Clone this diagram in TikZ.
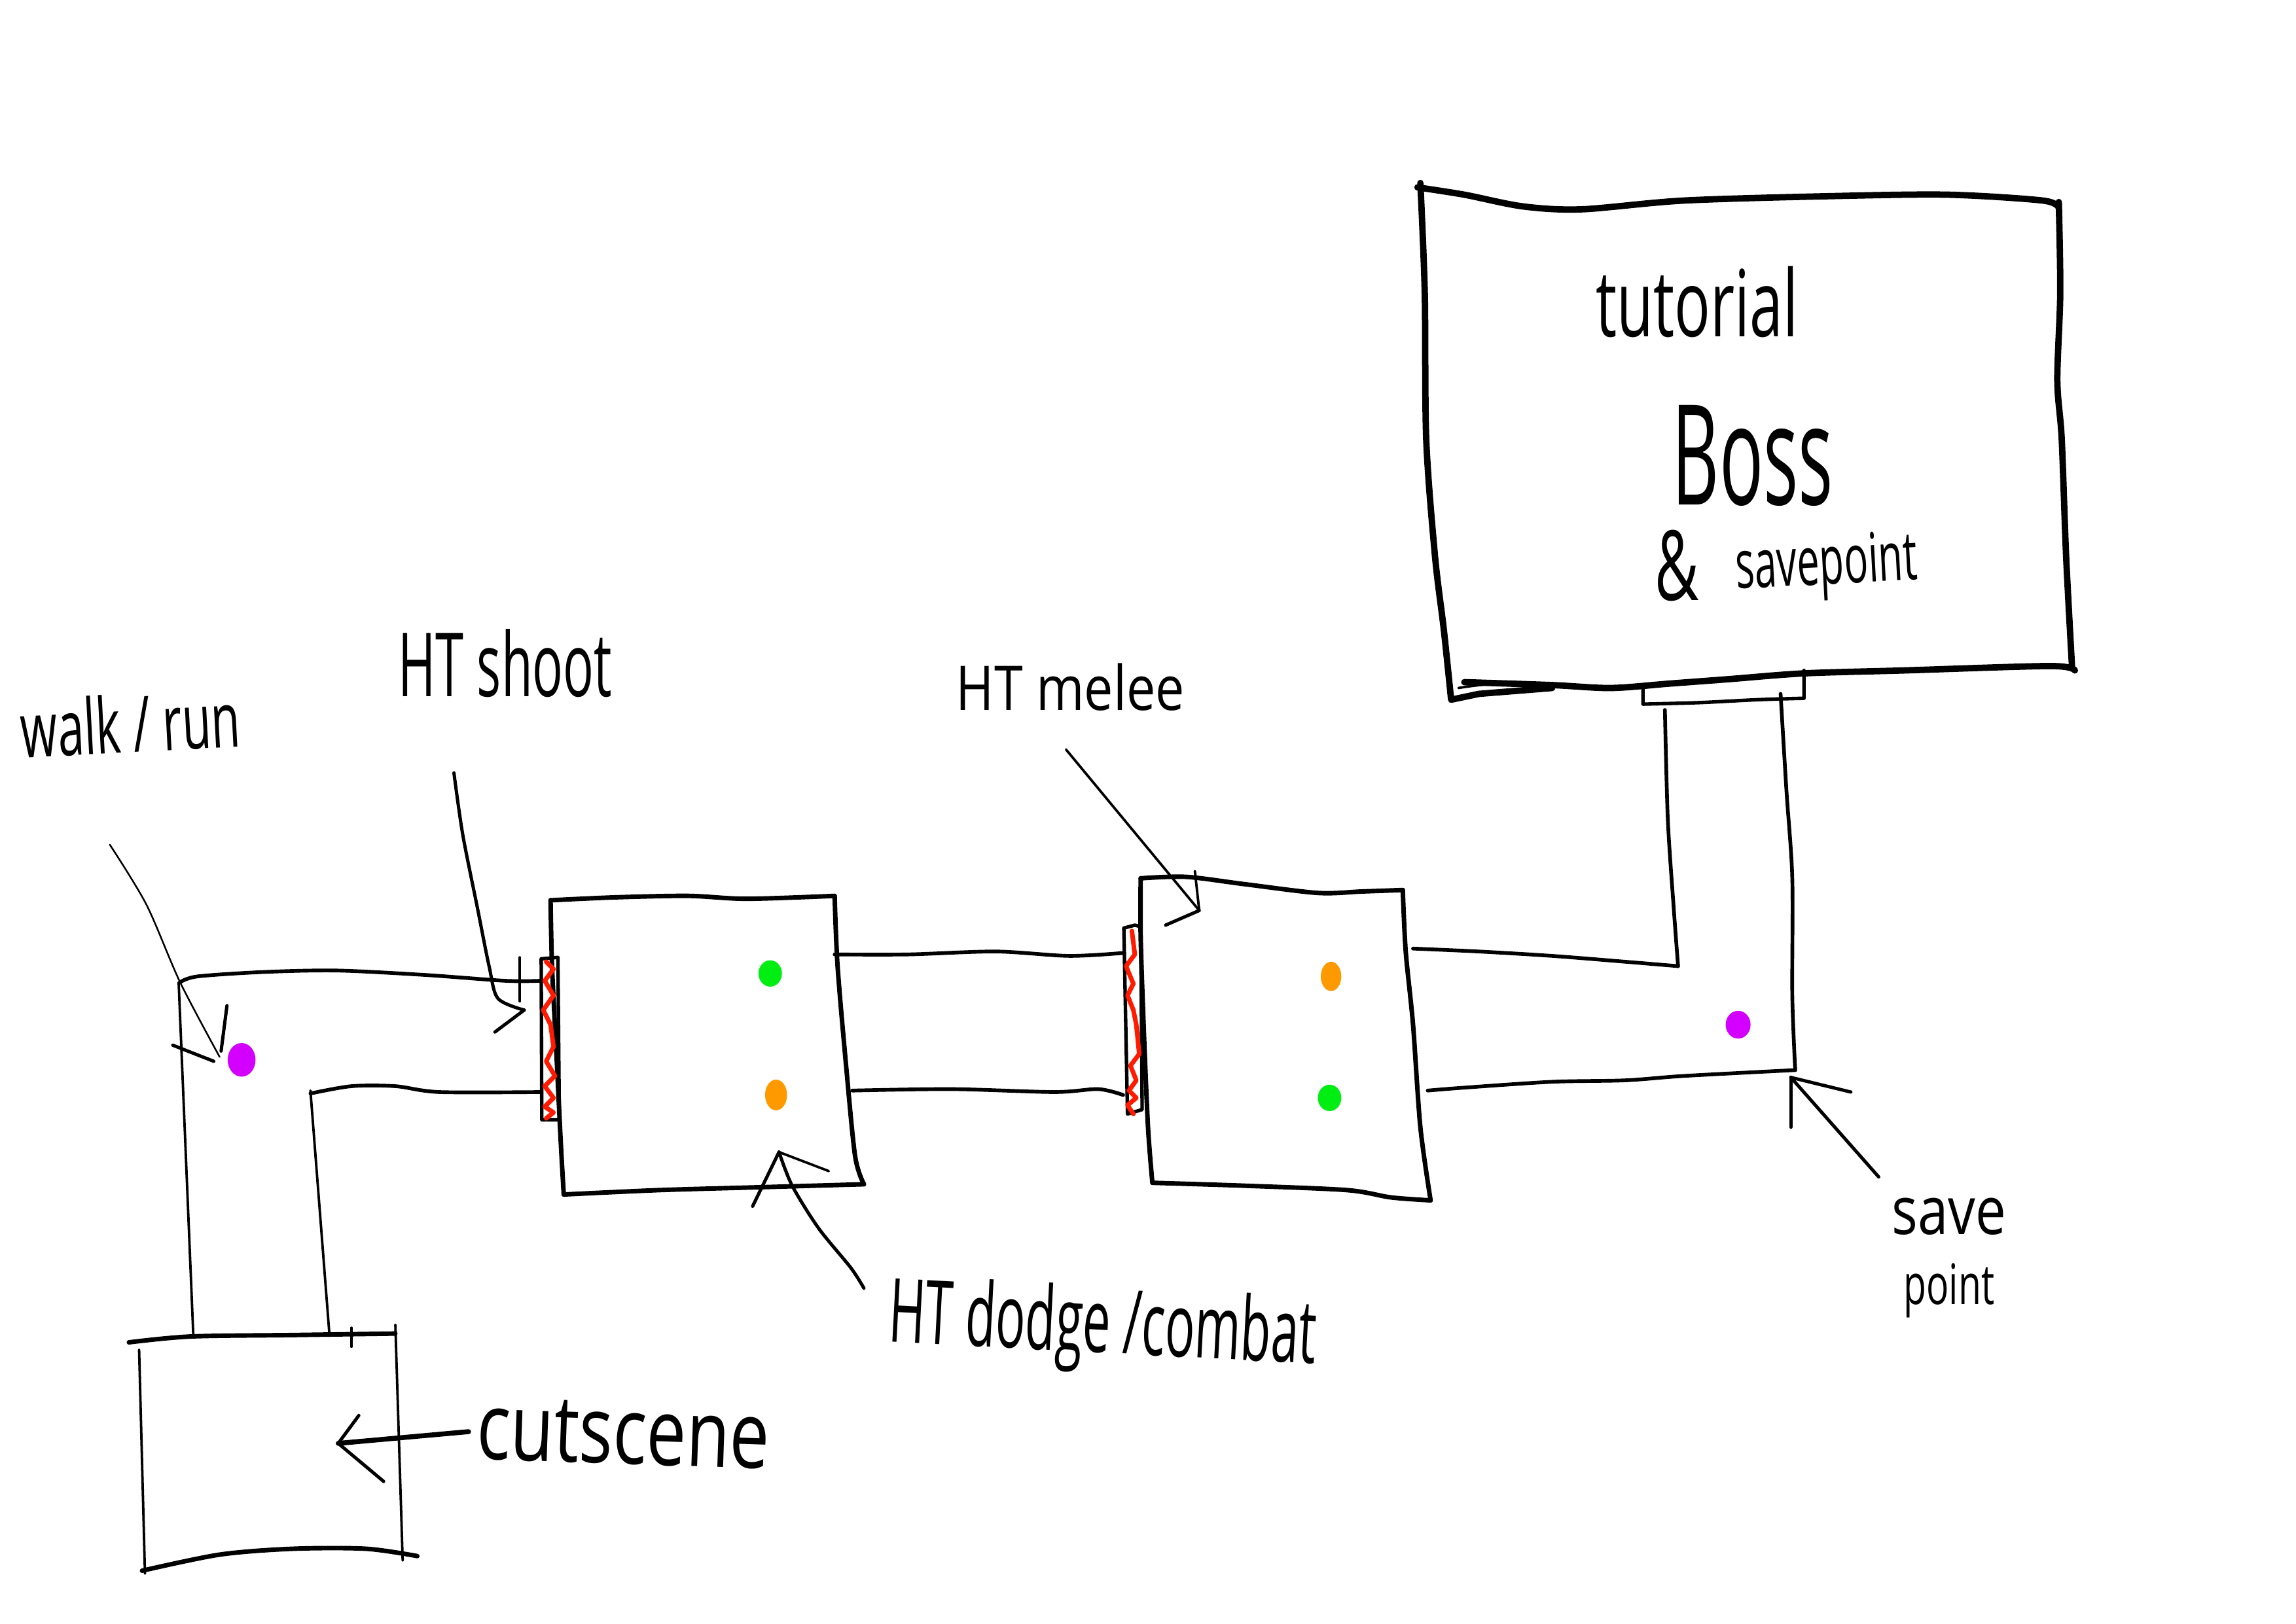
\documentclass[tikz,border=0pt]{standalone}
\usepackage{fontspec}
\usepackage{graphicx}
\setmainfont{Open Sans}
\definecolor{dotpurple}{HTML}{D400FF}
\definecolor{dotgreen}{HTML}{00EE11}
\definecolor{dotorange}{HTML}{FF9900}
\definecolor{doorred}{HTML}{FF1A00}
\newcommand{\fitto}[3]{\resizebox{#1cm}{#2cm}{#3}}
\tikzset{
  bosswall/.style={line width=3.1pt, line cap=round, line join=round},
  roomwall/.style={line width=2.2pt, line cap=round, line join=round},
  corridor/.style={line width=1.8pt, line cap=round, line join=round},
  thinwall/.style={line width=1.2pt, line cap=round, line join=round},
  doorline/.style={line width=1.7pt, line cap=round, line join=round},
  pointer/.style={line width=1.6pt, line cap=round, line join=round},
  hairline/.style={line width=0.8pt, line cap=round},
  redscribble/.style={doorred, line width=2.2pt, line cap=round, line join=round},
  lbl/.style={inner sep=0pt, anchor=base},
  sm/.style={smooth, tension=0.5}
}
\begin{document}
\begin{tikzpicture}[x=0.025cm, y=-0.025cm]
\path[use as bounding box, fill=white] (0,0) rectangle (1568,1109);

% ---------- Boss room ----------
\draw[bosswall] plot[sm] coordinates {(968,128) (1000,133) (1040,141) (1080,143) (1150,137) (1250,134) (1330,133) (1395,137) (1406,142)};
\draw[bosswall] plot[sm] coordinates {(1406,138) (1407,200) (1405,260) (1408,300) (1411,380) (1415,455)};
\draw[bosswall] plot[sm] coordinates {(1417,458) (1400,455) (1300,458) (1232,460) (1180,464) (1140,467) (1100,470) (1060,468) (1000,466)};
\draw[bosswall] plot[sm] coordinates {(970,125) (973,200) (974,300) (980,380) (986,430) (991,478)} -- (1010,474) -- (1060,470);
\draw[thinwall] (996,470) .. controls (1020,466) and (1040,466) .. (1060,468);
% door below the boss room
\draw[doorline] (1122,469) -- (1122,481) -- plot[sm] coordinates {(1122,481) (1160,480) (1200,478) (1232,477)} -- (1232,458);

% corridor from boss room
\draw[corridor] plot[sm] coordinates {(1137,485) (1139,560) (1143,620) (1146,660)};
\draw[corridor] plot[sm] coordinates {(965,648) (1010,650) (1060,653) (1110,657) (1146,660)};
\draw[corridor] plot[sm] coordinates {(1216,474) (1220,540) (1224,600) (1224,680) (1226,731)};
\draw[corridor] plot[sm] coordinates {(975,745) (1000,743) (1060,739) (1110,738) (1150,735) (1226,731)};
\fill[dotpurple] (1187,700) ellipse [x radius=8.5, y radius=9.5];

% ---------- Melee room ----------
\draw[roomwall] plot[sm] coordinates {(779,600) (810,599) (850,604) (900,610) (930,609) (958,608)};
\draw[roomwall] plot[sm] coordinates {(958,608) (960,650) (965,700) (970,770) (977,820)};
\draw[roomwall] plot[sm] coordinates {(787,808) (850,810) (920,813) (950,818) (977,820)};
\draw[roomwall] plot[sm] coordinates {(779,600) (779,640) (781,700) (784,770) (787,808)};
\fill[dotorange] (909,667) ellipse [x radius=7, y radius=10];
\fill[dotgreen] (908,750) ellipse [x radius=8, y radius=9];

% melee door
\draw[doorline] (767.5,634) -- (775,632) -- (779,633) -- (780,758) -- (770,761) -- cycle;
\draw[redscribble] plot coordinates {(773,636) (775,652) (769,660) (774,672) (770,680) (774,690) (776,700) (778,720) (772,728) (776,738) (771,745) (776,750) (770,755) (774,761)};

% corridor dodge -> melee
\draw[corridor] plot[sm] coordinates {(570,652) (620,652) (680,650) (730,653) (767,651)};
\draw[corridor] plot[sm] coordinates {(582,745) (650,744) (720,746) (750,744) (767,748)};

% ---------- Dodge room ----------
\draw[roomwall] plot[sm] coordinates {(376,615) (420,613) (470,612) (510,614) (570,612)};
\draw[roomwall] plot[sm] coordinates {(570,612) (572,660) (578,730) (584,790) (590,809)};
\draw[roomwall] plot[sm] coordinates {(385,816) (450,813) (520,811) (590,809)};
\draw[roomwall] plot[sm] coordinates {(376,615) (377,660) (380,720) (383,781) (385,816)};
\fill[dotgreen] (526,665) ellipse [x radius=8, y radius=9];
\fill[dotorange] (530,748) ellipse [x radius=7.5, y radius=10.5];

% shoot door
\draw[doorline] (369.6,655) -- (381,654) -- (382,765) -- (370,765) -- cycle;
\draw[redscribble] plot coordinates {(373,657) (378,662) (372,670) (378,680) (371,690) (376,700) (378,715) (373,725) (379,735) (372,742) (378,750) (372,756) (378,760) (373,764)};

% ---------- Walk / run corridor ----------
\draw[corridor] plot[sm] coordinates {(123,671) (135,667) (180,664) (230,663) (290,666) (345,670) (369,670)};
\draw[corridor] plot[sm] coordinates {(212,747) (240,742) (270,742) (300,746) (369,746)};
\draw[thinwall] (122,671) -- (132,912);
\draw[thinwall] (212,745) -- (225,912);
\fill[dotpurple] (165,724) ellipse [x radius=9.5, y radius=11.5];

% ---------- Cutscene room ----------
\draw[roomwall] plot[sm] coordinates {(88,917) (130,913) (200,912) (270,911)};
\draw[thinwall] (95,922) -- (99,1075);
\draw[thinwall] (270,905) -- (275,1066);
\draw[thinwall] (240,907) -- (240,920);
\draw[roomwall] plot[sm] coordinates {(97,1073) (150,1062) (200,1058) (250,1058) (285,1063)};

% ---------- Labels ----------
\node[lbl] (tut)   at (1159,230) {\fitto{3.45}{1.2}{tutorial}};
\node[lbl] (boss)  at (1197,345) {\fitto{2.75}{1.7}{Boss}};
\node[lbl] (amp)   at (1145,410) {\fitto{0.75}{1.2}{\&}};
\node[lbl, rotate=3] (savept) at (1248,399) {\fitto{3.1}{0.85}{savepoint}};
\node[lbl, rotate=3] (walk) at (90,514) {\fitto{3.75}{1.0}{walk / run}};
\node[lbl] (shoot) at (345,476) {\fitto{3.65}{1.15}{HT shoot}};
\node[lbl] (melee) at (731,485) {\fitto{3.9}{0.8}{HT melee}};
\node[lbl, rotate=-3] (dodge) at (752,924) {\fitto{7.3}{1.15}{HT dodge /combat}};
\node[lbl, rotate=-2] (cut) at (425,1000) {\fitto{5.0}{1.05}{cutscene}};
\node[lbl] (save)  at (1331,843) {\fitto{1.95}{0.62}{save}};
\node[lbl] (point) at (1331,891) {\fitto{1.55}{0.7}{point}};

% ---------- Pointers ----------
% walk / run
\coordinate (walkS) at (75,577);
\coordinate (walkT) at (150,722);
\draw[hairline] plot[sm] coordinates {(walkS) (100,618) (123,671) (150,722)};
\draw[pointer] (118,714) -- (146,725);
\draw[pointer] (155,687) -- (151,718);

% HT shoot
\coordinate (shootS) at (310,528);
\coordinate (shootT) at (358,690);
\draw[pointer] plot[sm] coordinates {(shootS) (316,570) (326,620) (334,660) (340,682) (shootT)};
\draw[pointer] (shootT) -- (338,705);
\draw[thinwall] (355,654) -- (355,684);

% HT melee
\coordinate (meleeS) at (728,512);
\coordinate (meleeT) at (819,622);
\draw[thinwall] (meleeS) -- (meleeT);
\draw[thinwall] (816,595) -- (meleeT);
\draw[pointer] (meleeT) -- (796,632);

% HT dodge / combat
\coordinate (dodgeS) at (590,880);
\coordinate (dodgeT) at (532,787);
\draw[pointer] plot[sm] coordinates {(dodgeS) (581,866) (559,839) (541,810) (dodgeT)};
\draw[pointer] (dodgeT) -- (514,824);
\draw[thinwall] (dodgeT) -- (566,800);

% save point
\coordinate (saveS) at (1283,804);
\coordinate (saveT) at (1223,736);
\draw[pointer] (saveS) -- (saveT);
\draw[pointer] (saveT) -- (1264,746);
\draw[pointer] (saveT) -- (1223,770);

% cutscene
\coordinate (cutS) at (320,978);
\coordinate (cutT) at (231,986);
\draw[line width=2.4pt, line cap=round] (cutS) -- (cutT);
\draw[pointer] (245,967) -- (cutT) -- (262,1012);
\end{tikzpicture}
\end{document}
